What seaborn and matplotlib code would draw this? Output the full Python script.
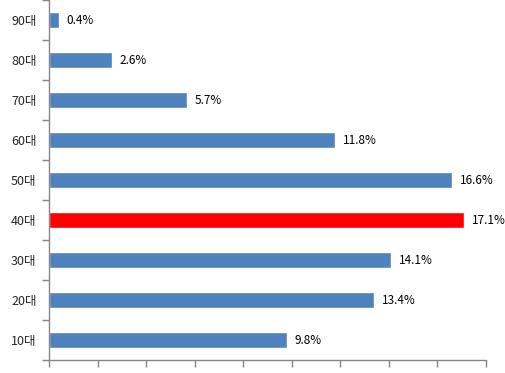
import numpy as np
import pandas as pd
import matplotlib
matplotlib.use('Agg')
import matplotlib.pyplot as plt
import seaborn as sns
from matplotlib.ticker import FixedLocator, MultipleLocator

# ── Data ─────────────────────────────────────────────────────
ages = ['90대', '80대', '70대', '60대', '50대', '40대', '30대', '20대', '10대']
shares = [0.4, 2.6, 5.7, 11.8, 16.6, 17.1, 14.1, 13.4, 9.8]
highlight = '40대'

df = pd.DataFrame({'age': ages, 'share': shares})
df['hl'] = np.where(df['age'] == highlight, 'hl', 'base')

# ── Style ────────────────────────────────────────────────────
sns.set_style('white')
plt.rcParams['font.family'] = ['Noto Sans CJK KR', 'DejaVu Sans']
axis_col = '#868686'

fig = plt.figure(figsize=(5.06, 3.73), dpi=100)
ax = fig.add_axes([49 / 506, 13 / 373, (486 - 49) / 506, 360 / 373])

sns.barplot(data=df, y='age', x='share', hue='hl', order=ages,
            palette={'base': '#4F81BD', 'hl': '#FF0000'},
            orient='h', width=0.4, legend=False, ax=ax, saturation=1)

# value labels right of each bar
for i, val in enumerate(shares):
    ax.text(val + 0.32, i, f'{val}%', va='center', ha='left', fontsize=8.5,
            color='black', clip_on=False)

ax.set_xlim(0, 18)
ax.set_ylim(len(ages) - 0.5, -0.5)
ax.set_xlabel('')
ax.set_ylabel('')

ax.xaxis.set_major_locator(MultipleLocator(2))
ax.set_xticklabels([])
ax.tick_params(axis='x', which='major', length=5, width=1, color=axis_col,
               direction='out', bottom=True)
ax.yaxis.set_minor_locator(FixedLocator(np.arange(-0.5, len(ages), 1)))
ax.tick_params(axis='y', which='major', length=0, pad=9, labelsize=9)
ax.tick_params(axis='y', which='minor', length=5, width=1, color=axis_col,
               direction='out', left=True)

for s in ['top', 'right']:
    ax.spines[s].set_visible(False)
for s in ['left', 'bottom']:
    ax.spines[s].set_color(axis_col)
    ax.spines[s].set_linewidth(1)

fig.savefig('out.png', dpi=100)
